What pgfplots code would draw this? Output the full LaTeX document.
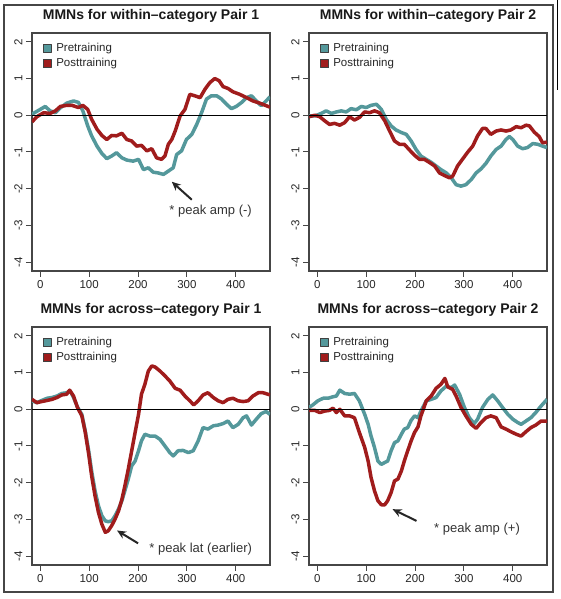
\documentclass[border=0pt]{standalone}
\usepackage{fontspec}
\setmainfont{Liberation Sans}
\usepackage{pgfplots}
\pgfplotsset{compat=1.18}
\usetikzlibrary{arrows.meta}
\definecolor{preC}{RGB}{84,152,155}
\definecolor{postC}{RGB}{160,28,28}
\definecolor{boxC}{RGB}{70,70,70}
\tikzset{
  annS/.style={-{Stealth[length=9pt,width=8pt]}, line width=2pt, black!85},
  annT/.style={font=\fontsize{13}{15}\selectfont, text=black!80, anchor=west},
}
\pgfplotsset{
  mmn/.style={
    width=238pt, height=238pt, scale only axis,
    xmin=-17, xmax=470, ymin=-4.24, ymax=2.24,
    xtick={0,100,200,300,400}, ytick={-4,-3,-2,-1,0,1,2},
    tick align=outside, xtick pos=lower, ytick pos=left,
    major tick length=6pt,
    axis line style={draw=boxC, line width=1.1pt},
    every tick/.style={draw=boxC, line width=1pt},
    /pgf/number format/assume math mode=true,
    tick label style={font=\fontsize{11.5}{13}\selectfont, text=black!85},
    yticklabel style={rotate=90, anchor=south},
    title style={font=\bfseries\fontsize{14}{16}\selectfont, anchor=base, at={(0.5,1)}, yshift=7.5pt, text=black!90},
    legend style={at={(0,1)}, anchor=north west, xshift=8pt, yshift=-6pt, draw=none, fill=none,
      font=\fontsize{11.5}{13}\selectfont, row sep=0pt,
      /tikz/every odd column/.style={column sep=3pt},
      nodes={inner sep=1.5pt, text height=9pt, text depth=3pt, text=black!85}},
    legend cell align=left,
  },
  preS/.style={preC, line width=3.5pt, line join=round,
    legend image code/.code={\fill[preC, draw=black!75, line width=0.6pt] (0pt,-4pt) rectangle (8pt,4pt);}},
  postS/.style={postC, line width=3.5pt, line join=round,
    legend image code/.code={\fill[postC, draw=black!75, line width=0.6pt] (0pt,-4pt) rectangle (8pt,4pt);}},
  zeroS/.style={black, line width=0.9pt, forget plot},
}
\begin{document}
\begin{tikzpicture}
\useasboundingbox (0pt,0pt) rectangle (561pt,599pt);
\draw[boxC, line width=1.2pt] (4pt,7pt) rectangle (553pt,594pt);
\draw[black, line width=1.6pt] (557.5pt,599pt) -- (557.5pt,509pt);

% Panel 1
\begin{axis}[mmn, at={(32pt,566pt)}, anchor=north west, title={MMNs for within–category Pair 1}]
\addplot[preS] coordinates {(-17,0.03)(0,0.16)(10,0.24)(20,0.12)(31,0.07)(41,0.2)(54,0.33)(68,0.39)(78,0.35)(87,0.12)(97,-0.29)(105,-0.56)(116,-0.84)(126,-1.04)(136,-1.18)(146,-1.11)(156,-1.02)(167,-1.16)(177,-1.22)(190,-1.25)(201,-1.2)(211,-1.48)(221,-1.43)(231,-1.55)(241,-1.57)(252,-1.61)(262,-1.52)(272,-1.43)(279,-1.07)(289,-0.97)(299,-0.66)(310,-0.52)(320,-0.25)(330,0.07)(340,0.44)(350,0.53)(361,0.53)(371,0.44)(381,0.3)(391,0.18)(401,0.24)(412,0.35)(422,0.48)(432,0.53)(442,0.39)(452,0.26)(462,0.39)(470,0.5)};
\addlegendentry{Pretraining}
\addplot[postS] coordinates {(-17,-0.18)(-7,-0.04)(7,0.07)(20,0.05)(31,0.12)(41,0.24)(54,0.27)(65,0.27)(78,0.21)(87,0.27)(97,0.16)(105,-0.11)(116,-0.38)(126,-0.55)(136,-0.66)(146,-0.55)(156,-0.56)(167,-0.49)(177,-0.66)(187,-0.7)(197,-0.84)(207,-0.82)(218,-0.97)(228,-0.91)(238,-1.16)(248,-1.2)(255,-1.11)(262,-0.79)(269,-0.66)(276,-0.43)(286,-0.02)(296,0.16)(306,0.57)(316,0.53)(327,0.48)(337,0.71)(347,0.89)(357,1.0)(366,0.94)(374,0.78)(384,0.73)(394,0.64)(408,0.57)(422,0.48)(435,0.39)(449,0.33)(470,0.22)};
\addlegendentry{Posttraining}
\addplot[zeroS] coordinates {(-17,0)(470,0)};
\draw[annS] (axis cs:310,-2.3) -- (axis cs:269,-1.81);
\node[annT] at (axis cs:257,-2.6) {* peak amp (-)};
\end{axis}

% Panel 2
\begin{axis}[mmn, at={(309pt,566pt)}, anchor=north west, title={MMNs for within–category Pair 2}]
\addplot[preS] coordinates {(-17,-0.02)(-5,-0.02)(8,0.05)(18,0.12)(29,0.05)(39,0.09)(49,0.12)(59,0.09)(69,0.18)(80,0.15)(90,0.24)(100,0.21)(110,0.27)(121,0.3)(131,0.16)(141,-0.11)(151,-0.29)(161,-0.4)(172,-0.47)(182,-0.52)(192,-0.7)(202,-0.93)(212,-1.11)(223,-1.2)(233,-1.28)(243,-1.38)(253,-1.48)(264,-1.57)(274,-1.7)(284,-1.89)(294,-1.93)(304,-1.89)(315,-1.75)(325,-1.57)(335,-1.46)(345,-1.31)(355,-1.11)(366,-0.93)(376,-0.84)(386,-0.66)(393,-0.58)(400,-0.66)(410,-0.84)(420,-0.91)(430,-0.88)(441,-0.77)(451,-0.79)(461,-0.84)(470,-0.88)};
\addlegendentry{Pretraining}
\addplot[postS] coordinates {(-17,-0.04)(-5,0)(5,-0.04)(15,-0.15)(25,-0.25)(35,-0.22)(46,-0.27)(56,-0.2)(66,-0.04)(76,-0.13)(86,-0.06)(97,0.09)(107,0.07)(117,0.12)(127,0.07)(138,-0.15)(148,-0.43)(158,-0.7)(168,-0.79)(178,-0.79)(189,-0.95)(199,-1.09)(209,-1.2)(219,-1.2)(230,-1.29)(240,-1.38)(250,-1.57)(260,-1.64)(270,-1.7)(277,-1.66)(287,-1.38)(298,-1.18)(308,-1.0)(318,-0.84)(328,-0.56)(338,-0.36)(345,-0.36)(355,-0.52)(366,-0.43)(376,-0.4)(386,-0.43)(396,-0.4)(407,-0.31)(417,-0.34)(427,-0.27)(434,-0.29)(444,-0.46)(454,-0.58)(461,-0.75)(470,-0.73)};
\addlegendentry{Posttraining}
\addplot[zeroS] coordinates {(-17,0)(470,0)};
\end{axis}

% Panel 3
\begin{axis}[mmn, at={(32pt,272pt)}, anchor=north west, title={MMNs for across–category Pair 1}]
\addplot[preS] coordinates {(-17,0.23)(-7,0.18)(3,0.24)(14,0.3)(24,0.32)(34,0.36)(44,0.43)(54,0.45)(61,0.5)(68,0.32)(76,0.06)(85,-0.14)(92,-0.59)(99,-1.13)(105,-1.68)(112,-2.22)(119,-2.63)(126,-2.9)(133,-3.04)(139,-3.06)(146,-3.04)(153,-2.9)(160,-2.72)(167,-2.49)(173,-2.22)(180,-1.9)(187,-1.54)(194,-1.41)(201,-1.13)(207,-0.86)(214,-0.68)(224,-0.73)(235,-0.73)(245,-0.82)(255,-1.0)(265,-1.18)(272,-1.27)(282,-1.13)(292,-1.12)(303,-1.18)(313,-1.13)(323,-0.86)(333,-0.5)(343,-0.54)(354,-0.45)(364,-0.43)(374,-0.39)(384,-0.32)(394,-0.5)(405,-0.41)(415,-0.23)(422,-0.18)(432,-0.43)(442,-0.27)(452,-0.12)(462,-0.06)(470,-0.14)};
\addlegendentry{Pretraining}
\addplot[postS] coordinates {(-17,0.27)(-7,0.18)(3,0.21)(14,0.24)(24,0.27)(34,0.32)(44,0.39)(54,0.41)(60,0.52)(68,0.36)(76,0.05)(85,-0.18)(92,-0.63)(99,-1.22)(105,-1.81)(112,-2.36)(119,-2.81)(126,-3.13)(133,-3.35)(139,-3.31)(146,-3.17)(153,-2.99)(160,-2.77)(167,-2.45)(173,-2.09)(180,-1.63)(187,-1.13)(194,-0.63)(201,-0.14)(207,0.41)(214,0.68)(221,1.04)(228,1.18)(235,1.15)(245,1.04)(255,0.91)(265,0.77)(276,0.57)(286,0.52)(296,0.36)(306,0.23)(314,0.12)(323,0.23)(333,0.39)(343,0.45)(354,0.32)(364,0.23)(374,0.18)(384,0.27)(394,0.3)(405,0.23)(415,0.21)(425,0.23)(435,0.36)(446,0.45)(456,0.45)(470,0.39)};
\addlegendentry{Posttraining}
\addplot[zeroS] coordinates {(-17,0)(470,0)};
\draw[annS] (axis cs:200,-3.65) -- (axis cs:157,-3.3);
\node[annT] at (axis cs:216,-3.82) {* peak lat (earlier)};
\end{axis}

% Panel 4
\begin{axis}[mmn, at={(309pt,272pt)}, anchor=north west, title={MMNs for across–category Pair 2}]
\addplot[preS] coordinates {(-17,0.05)(-9,0.12)(1,0.23)(12,0.3)(22,0.3)(32,0.34)(39,0.36)(46,0.52)(56,0.43)(66,0.41)(76,0.43)(86,0.23)(97,-0.14)(104,-0.41)(110,-0.73)(117,-1.04)(124,-1.41)(131,-1.5)(138,-1.45)(144,-1.41)(151,-1.13)(158,-0.91)(165,-0.86)(172,-0.68)(178,-0.54)(185,-0.5)(192,-0.3)(199,-0.18)(206,-0.23)(212,-0.05)(223,0.23)(233,0.27)(243,0.32)(253,0.5)(264,0.63)(274,0.59)(281,0.66)(291,0.41)(301,0.05)(311,-0.23)(321,-0.39)(328,-0.27)(338,0.05)(349,0.27)(359,0.39)(369,0.23)(379,0.05)(390,-0.14)(400,-0.27)(410,-0.36)(417,-0.41)(427,-0.32)(437,-0.23)(447,-0.09)(458,0.09)(470,0.27)};
\addlegendentry{Pretraining}
\addplot[postS] coordinates {(-17,-0.03)(-5,-0.03)(5,-0.09)(15,-0.05)(25,-0.03)(32,0.03)(39,-0.09)(46,0)(56,-0.18)(66,-0.18)(76,-0.23)(86,-0.63)(97,-1.04)(104,-1.41)(110,-1.86)(117,-2.22)(124,-2.49)(131,-2.6)(138,-2.6)(144,-2.49)(151,-2.27)(158,-1.95)(165,-1.9)(172,-1.68)(178,-1.41)(185,-1.13)(192,-0.86)(199,-0.63)(206,-0.48)(212,-0.18)(223,0.23)(233,0.36)(243,0.57)(253,0.68)(261,0.84)(267,0.61)(277,0.54)(284,0.36)(294,0.05)(304,-0.18)(315,-0.41)(325,-0.52)(335,-0.36)(345,-0.23)(355,-0.18)(366,-0.23)(376,-0.48)(386,-0.54)(396,-0.61)(407,-0.68)(417,-0.73)(427,-0.61)(437,-0.5)(447,-0.43)(458,-0.32)(470,-0.32)};
\addlegendentry{Posttraining}
\addplot[zeroS] coordinates {(-17,0)(470,0)};
\draw[annS] (axis cs:203,-3.04) -- (axis cs:154,-2.72);
\node[annT] at (axis cs:232,-3.26) {* peak amp (+)};
\end{axis}
\end{tikzpicture}
\end{document}
